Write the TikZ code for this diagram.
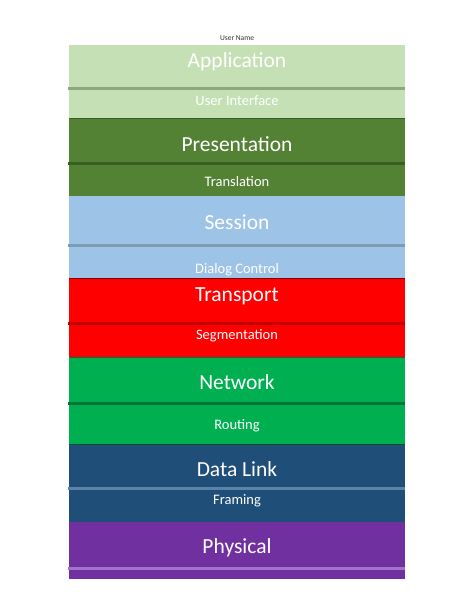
\documentclass[tikz,border=0pt]{standalone}
\usepackage{fontspec}
\setmainfont{Carlito}
\definecolor{appf}{HTML}{C5E0B4}\definecolor{appl}{HTML}{8FA67E}
\definecolor{pref}{HTML}{548235}\definecolor{prel}{HTML}{385E23}
\definecolor{sesf}{HTML}{9DC3E6}\definecolor{sesl}{HTML}{7E9CB6}
\definecolor{traf}{HTML}{FF0000}\definecolor{tral}{HTML}{C00000}
\definecolor{netf}{HTML}{00B050}\definecolor{netl}{HTML}{00733A}
\definecolor{datf}{HTML}{1F4E79}\definecolor{datl}{HTML}{5C82A8}
\definecolor{phyf}{HTML}{7030A0}\definecolor{phyl}{HTML}{A274C8}
\tikzset{
  mainlbl/.style={text=white,font=\fontsize{21.5}{24}\selectfont,inner sep=0pt,anchor=center},
  sublbl/.style={text=white,font=\fontsize{14.5}{17}\selectfont,inner sep=0pt,anchor=center},
  sepline/.style={line width=3pt},
}
\newcommand{\mylayer}[5]{%
  \fill[#4] (69,#1) rectangle (405,#3);
  \draw[sepline,#5] (68,#2) -- (405,#2);
}
\begin{document}
\begin{tikzpicture}[x=1pt,y=-1pt]
\useasboundingbox (0,0) rectangle (474,613);
\fill[white] (0,0) rectangle (474,613);
\mylayer{45}{88}{118}{appf}{appl}
\mylayer{118}{163}{196}{pref}{prel}
\mylayer{196}{245}{278}{sesf}{sesl}
\mylayer{278}{323}{357}{traf}{tral}
\mylayer{357}{403}{445}{netf}{netl}
\mylayer{445}{488}{522}{datf}{datl}
\mylayer{522}{568}{579}{phyf}{phyl}
\draw[line width=0.8pt,prel] (69,118.4) -- (405,118.4);
\draw[line width=0.8pt,tral!70!black] (69,278.4) -- (405,278.4);
\draw[line width=0.8pt,netl] (69,357.4) -- (405,357.4);
\draw[line width=0.8pt,netl!70!black] (69,444.6) -- (405,444.6);
\node[inner sep=0pt,font=\fontsize{7.5}{9}\selectfont,text=black!80] (user) at (237,38.5) {User Name};
\node[mainlbl] (app) at (237,62) {Application};
\node[sublbl] (ui) at (237,101) {User Interface};
\node[mainlbl] (pre) at (237,144) {Presentation};
\node[sublbl] (trn) at (237,182) {Translation};
\node[mainlbl] (ses) at (237,222) {Session};
\node[sublbl] (dlg) at (237,270) {Dialog Control};
\node[mainlbl] (tra) at (237,296) {Transport};
\node[sublbl] (seg) at (237,336) {Segmentation};
\node[mainlbl] (net) at (237,382) {Network};
\node[sublbl] (rou) at (237,426) {Routing};
\node[mainlbl] (dat) at (237,469) {Data Link};
\node[sublbl] (frm) at (237,501) {Framing};
\node[mainlbl] (phy) at (237,548) {Physical};
\end{tikzpicture}
\end{document}
